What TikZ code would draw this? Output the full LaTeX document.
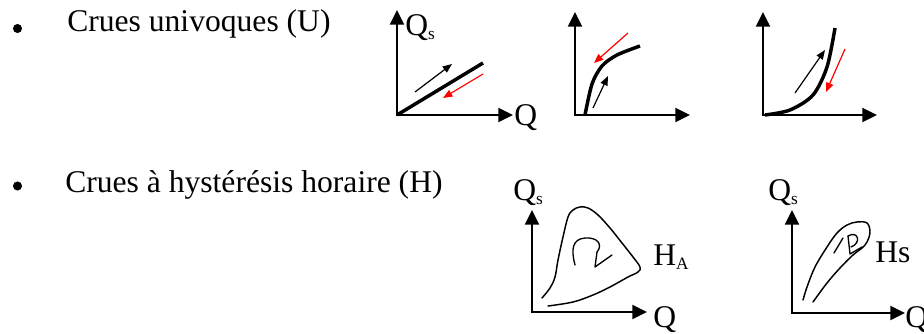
\documentclass[tikz,border=0pt]{standalone}
\usepackage{fontspec}
\setmainfont{Liberation Serif}
\usetikzlibrary{arrows.meta}
\newcommand{\mysubscr}[1]{\raisebox{-0.12em}{\fontsize{13}{13}\selectfont #1}}
\begin{document}
\begin{tikzpicture}[x=0.75pt,y=-0.75pt,
  lbl/.style={inner sep=0pt,anchor=base west,font=\fontsize{23.7}{28}\selectfont},
  bulletdot/.style={circle,fill=black,inner sep=0pt,minimum size=6.8pt},
  axes/.style={line width=1.5pt,{Triangle[length=11pt,width=10.5pt]}-{Triangle[length=11pt,width=10.5pt]}},
  thickcurve/.style={line width=2.6pt},
  loopcurve/.style={line width=1.1pt,line cap=round},
  blkarrow/.style={line width=0.9pt,-{Triangle[length=7pt,width=5.5pt]}},
  redarrow/.style={line width=0.9pt,red,-{Triangle[length=7pt,width=5.5pt]}},
  thin/.style={line width=1pt,line cap=round,line join=round}]
\useasboundingbox (0,0) rectangle (924,334);
% bullets and texts
\node[bulletdot] (b1) at (17.5,28.5) {};
\node[lbl] (t1) at (67,32) {Crues univoques (U)};
\node[bulletdot] (b2) at (17.5,186) {};
\node[lbl] (t2) at (65,193) {Crues à hystérésis horaire (H)};
% ---------- graph 1
\coordinate (o1) at (397,115);
\coordinate (y1) at (397,10);
\coordinate (x1) at (513,115);
\draw[axes] (y1) -- (o1) -- (x1);
\node[lbl] (qs1) at (405,36) {Q\mysubscr{s}};
\node[lbl] (q1) at (514,126) {Q};
\coordinate (e1) at (483,63);
\draw[thickcurve] (o1) -- (e1);
\coordinate (ba1) at (415,92); \coordinate (bb1) at (452,64);
\draw[blkarrow] (ba1) -- (bb1);
\coordinate (ra1) at (483,74); \coordinate (rb1) at (443,98);
\draw[redarrow] (ra1) -- (rb1);
% ---------- graph 2
\coordinate (o2) at (575,115);
\coordinate (y2) at (575,12);
\coordinate (x2) at (690,115);
\draw[axes] (y2) -- (o2) -- (x2);
\draw[thickcurve] plot[smooth] coordinates {(585,115) (592,84) (602,66) (617,55) (640,46)};
\coordinate (ra2) at (628,33); \coordinate (rb2) at (594,63);
\draw[redarrow] (ra2) -- (rb2);
\coordinate (ba2) at (593,108); \coordinate (bb2) at (608,76);
\draw[blkarrow] (ba2) -- (bb2);
% ---------- graph 3
\coordinate (o3) at (763,115);
\coordinate (y3) at (763,12);
\coordinate (x3) at (877,115);
\draw[axes] (y3) -- (o3) -- (x3);
\draw[thickcurve] plot[smooth] coordinates {(765,115) (790,110) (813,95) (827,67) (835,28)};
\coordinate (ba3) at (795,93); \coordinate (bb3) at (825,50);
\draw[blkarrow] (ba3) -- (bb3);
\coordinate (ra3) at (845,49); \coordinate (rb3) at (826,92);
\draw[redarrow] (ra3) -- (rb3);
% ---------- graph 4
\coordinate (o4) at (532,312);
\coordinate (y4) at (532,210);
\coordinate (x4) at (647,312);
\draw[axes] (y4) -- (o4) -- (x4);
\node[lbl] (qs4) at (513,201) {Q\mysubscr{s}};
\node[lbl] (q4) at (653,328) {Q};
\node[lbl] (ha) at (653,266) {H\mysubscr{A}};
\draw[loopcurve] plot[smooth,tension=0.6] coordinates {(542,298) (550,288) (555,277) (558,260) (563,237) (568,217) (573,210) (580,207) (588,208) (598,215) (610,228) (622,243) (633,257) (640,267) (638,272) (628,277) (610,287) (593,295) (573,302) (548,306)};
\coordinate (sa4) at (575,265); \coordinate (st4) at (595,267); \coordinate (sw4) at (612,255);
\draw[thin] (sa4) .. controls (571,250) and (572,239) .. (585,238) .. controls (598,237) and (603,245) .. (597,252) -- (st4) -- (sw4);
% ---------- graph 5
\coordinate (o5) at (792,313);
\coordinate (y5) at (792,210);
\coordinate (x5) at (905,313);
\draw[axes] (y5) -- (o5) -- (x5);
\node[lbl] (qs5) at (768,201) {Q\mysubscr{s}};
\node[lbl] (q5) at (905,328) {Q};
\node[lbl] (hs) at (875,263) {Hs};
\draw[loopcurve] plot[smooth,tension=0.6] coordinates {(803,300) (807,287) (815,267) (827,247) (837,233) (847,225) (857,222) (867,223) (870,232) (867,242) (862,248) (853,255) (840,268) (827,283) (813,302)};
\coordinate (sa5) at (834,253); \coordinate (sb5) at (843,238);
\draw[thin] (sa5) -- (sb5);
\coordinate (sc5) at (848,236); \coordinate (st5) at (850,254); \coordinate (sw5) at (862,247);
\draw[thin] (sc5) .. controls (858,230) and (862,243) .. (851,247);
\draw[thin] (sc5) -- (st5) -- (sw5);
\end{tikzpicture}
\end{document}
